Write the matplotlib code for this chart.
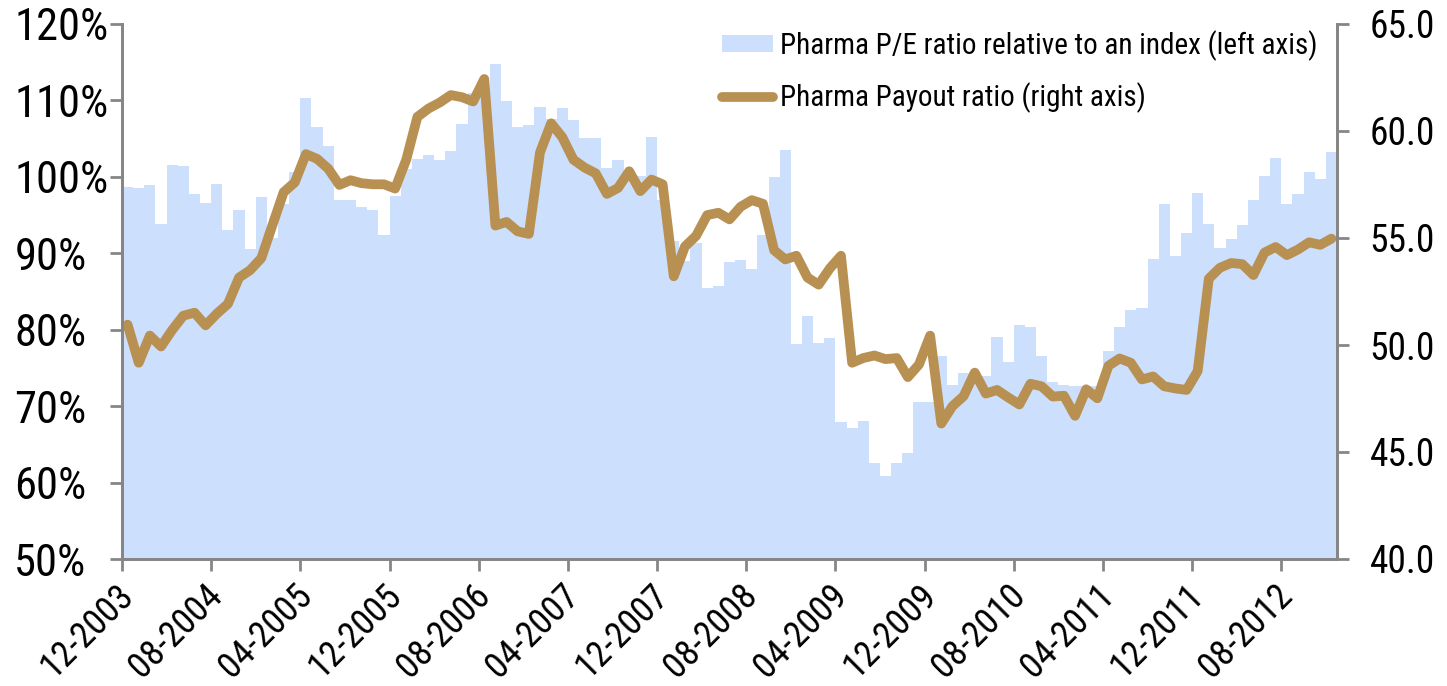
import matplotlib
matplotlib.use("Agg")
import matplotlib.pyplot as plt
import matplotlib.transforms as mtransforms
from matplotlib import font_manager as fm
from matplotlib.ticker import FormatStrFormatter, FuncFormatter
import numpy as np

# monthly data 12-2003 .. 12-2012
pe_ratio = [98.7, 98.5, 99.0, 93.8, 101.6, 101.4, 97.8, 96.6, 99.1, 93.1,
            95.6, 90.6, 97.3, 92.0, 96.5, 100.6, 110.3, 106.5, 104.1, 97.0,
            97.0, 96.1, 95.7, 92.4, 97.5, 101.0, 102.4, 102.8, 102.2, 103.4,
            106.9, 111.0, 111.3, 114.8, 109.9, 106.5, 106.8, 109.1, 107.6, 109.0,
            107.5, 105.1, 105.1, 101.1, 102.2, 100.5, 100.1, 105.2, 97.0, 91.6,
            89.0, 91.3, 85.5, 85.7, 88.9, 89.1, 87.9, 92.4, 100.0, 103.5,
            78.1, 81.8, 78.3, 78.9, 67.9, 67.1, 68.1, 62.5, 60.8, 62.6,
            63.9, 70.6, 70.6, 76.5, 72.8, 74.4, 74.3, 74.0, 79.1, 75.8,
            80.6, 80.3, 76.6, 73.2, 72.8, 72.6, 72.6, 72.6, 77.2, 80.3,
            82.6, 82.8, 89.2, 96.4, 89.7, 92.7, 97.9, 93.8, 90.7, 91.9,
            93.7, 97.0, 100.1, 102.5, 96.4, 97.8, 100.7, 99.7, 103.2]

payout = [50.95, 49.17, 50.44, 49.93, 50.70, 51.37, 51.51, 50.92, 51.46, 51.92,
          53.15, 53.50, 54.06, 55.61, 57.14, 57.60, 58.92, 58.70, 58.24, 57.48,
          57.70, 57.56, 57.51, 57.51, 57.31, 58.66, 60.66, 61.05, 61.33, 61.68,
          61.58, 61.38, 62.43, 55.58, 55.75, 55.31, 55.19, 59.00, 60.36, 59.71,
          58.66, 58.29, 58.02, 57.06, 57.34, 58.12, 57.19, 57.73, 57.51, 53.21,
          54.60, 55.10, 56.07, 56.18, 55.87, 56.46, 56.77, 56.60, 54.43, 54.00,
          54.17, 53.15, 52.82, 53.58, 54.17, 49.17, 49.39, 49.51, 49.34, 49.39,
          48.50, 49.09, 50.44, 46.33, 47.14, 47.61, 48.71, 47.73, 47.90, 47.55,
          47.22, 48.19, 48.07, 47.59, 47.63, 46.69, 47.93, 47.51, 49.03, 49.37,
          49.17, 48.39, 48.53, 48.07, 47.97, 47.90, 48.78, 53.10, 53.61, 53.83,
          53.78, 53.27, 54.32, 54.58, 54.20, 54.46, 54.80, 54.68, 54.97]

tick_labels = ['12-2003', '08-2004', '04-2005', '12-2005', '08-2006', '04-2007',
               '12-2007', '08-2008', '04-2009', '12-2009', '08-2010', '04-2011',
               '12-2011', '08-2012']

bar_label = 'Pharma P/E ratio relative to an index (left axis)'
line_label = 'Pharma Payout ratio (right axis)'

bar_color = '#CCDFFC'
line_color = '#B89052'
grey = '#868686'


def pick_narrow_font():
    # the original uses a narrow sans (Arial Narrow like); use one if there is one
    names = {f.name for f in fm.fontManager.ttflist}
    for p in ['Liberation Sans Narrow', 'Arial Narrow', 'Roboto Condensed',
              'Open Sans Condensed', 'Noto Sans Condensed', 'DejaVu Sans Condensed']:
        if p in names:
            return p, 'normal'
    for fam in ['Noto Sans', 'Roboto', 'Open Sans', 'DejaVu Sans', 'Liberation Sans']:
        for f in fm.fontManager.ttflist:
            if f.name == fam and str(f.stretch) in ('condensed', 'semi-condensed') \
                    and f.style == 'normal' and f.weight in (400, 'normal', 'regular'):
                return fam, f.stretch
    return None, None


fam, stretch = pick_narrow_font()
if fam:
    plt.rcParams['font.family'] = [fam, 'DejaVu Sans']
    plt.rcParams['font.stretch'] = stretch
    k = 1.0
else:
    plt.rcParams['font.family'] = ['Liberation Sans', 'DejaVu Sans']
    k = 0.85

W, H = 1447, 686
fig = plt.figure(figsize=(W / 100, H / 100), dpi=100)
ax = fig.add_axes([122 / W, 1 - 559 / H, (1337 - 122) / W, (559 - 24) / H])
ax2 = ax.twinx()

x = np.arange(len(pe_ratio)) + 0.5
bars = ax.bar(x, pe_ratio, width=1.0, color=bar_color, linewidth=0, label=bar_label)
line, = ax2.plot(x, payout, color=line_color, lw=7, solid_joinstyle='round',
                 solid_capstyle='round', label=line_label)

ax.set_xlim(0, len(pe_ratio))
ax.set_ylim(50, 120)
ax2.set_ylim(40, 65)
ax.set_yticks(np.arange(50, 121, 10))
ax2.set_yticks(np.arange(40, 66, 5))
ax.yaxis.set_major_formatter(FuncFormatter(lambda v, p: '%d%%' % v))
ax2.yaxis.set_major_formatter(FormatStrFormatter('%.1f'))

ax.set_xticks(np.arange(0, len(pe_ratio), 8))
ax.set_xticklabels(tick_labels, rotation=45, ha='right', va='center', rotation_mode='anchor')

for a in (ax, ax2):
    a.spines['top'].set_visible(False)
    for s in ('left', 'right', 'bottom'):
        a.spines[s].set_color(grey)
        a.spines[s].set_linewidth(2)
    a.tick_params(colors=grey, labelcolor='black', labelsize=27 * k, width=2, length=8.5)

ax.tick_params(axis='y', pad=69, labelsize=32 * k)
for lab in ax.get_yticklabels():
    lab.set_ha('left')
ax.tick_params(axis='x', pad=14, labelsize=26 * k)
ax2.tick_params(axis='y', pad=15)

shift = mtransforms.ScaledTranslation(0.06, 0, fig.dpi_scale_trans)
for lab in ax.get_xticklabels():
    lab.set_transform(lab.get_transform() + shift)

ax2.legend([bars, line], [bar_label, line_label], loc='upper left',
           bbox_to_anchor=(722 / W, 1 - 30 / H), bbox_transform=fig.transFigure,
           frameon=False, fontsize=21 * k, handlelength=1.75, handleheight=0.55,
           handletextpad=0.24, borderpad=0, borderaxespad=0, labelspacing=0.75)

fig.savefig('out.png', dpi=100)
